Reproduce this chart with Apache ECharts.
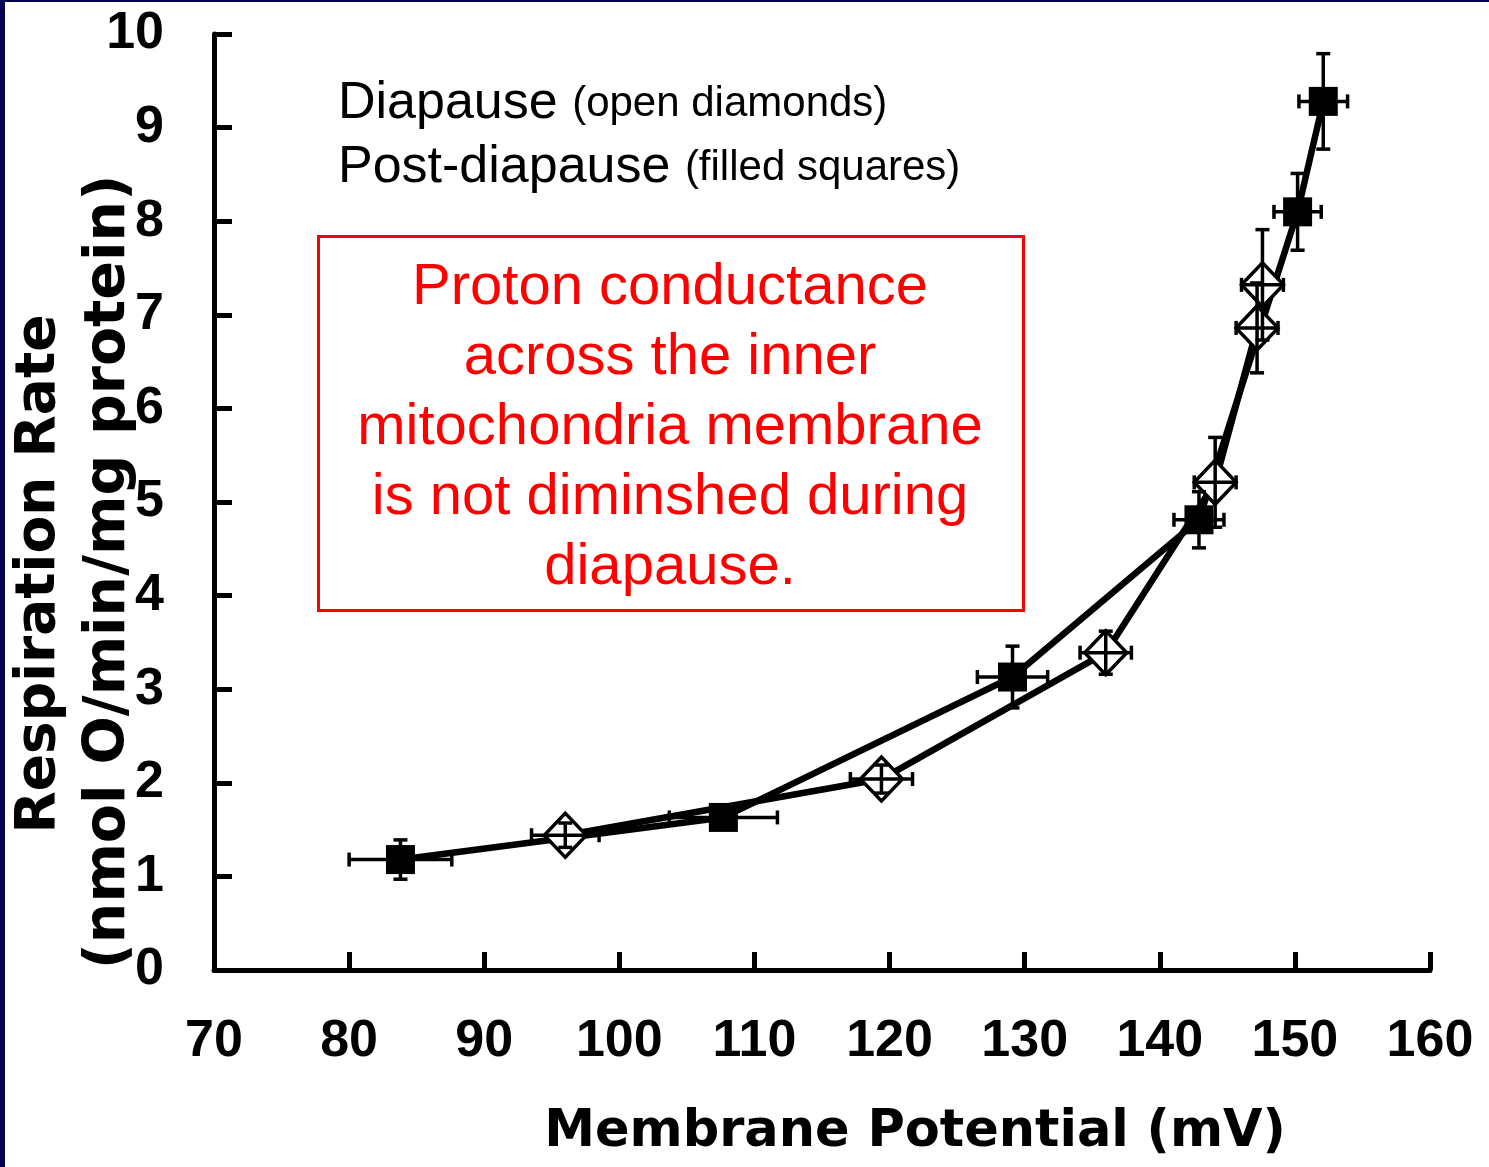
<!DOCTYPE html>
<html>
<head>
<meta charset="utf-8">
<script src="https://cdn.jsdelivr.net/npm/echarts@6/dist/echarts.min.js"></script>
<style>
  html, body { margin: 0; padding: 0; background: #fff; }
  #main-chart { width: 1489px; height: 1167px; }
</style>
</head>
<body>
<div id="main-chart"></div>
<script>
// diapause (open diamonds)
var diapX = [96.0, 119.4, 136.0, 144.1, 147.2, 147.6];
var diapY = [1.44, 2.04, 3.39, 5.21, 6.86, 7.32];
var diapXErr = [2.5, 2.3, 1.9, 1.55, 1.55, 1.55];
var diapYErr = [0.13, 0.15, 0.23, 0.48, 0.48, 0.59];

// post-diapause (filled squares)
var postX = [83.8, 107.7, 129.1, 142.9, 150.2, 152.1];
var postY = [1.18, 1.63, 3.13, 4.81, 8.10, 9.28];
var postXErr = [3.8, 4.0, 2.6, 1.85, 1.75, 1.8];
var postYErr = [0.21, 0.10, 0.33, 0.30, 0.41, 0.51];

var xTicks = { min: 70, max: 160, step: 10 };
var yTicks = { min: 0, max: 10, step: 1 };

var boxLines = [
    'Proton conductance',
    'across the inner',
    'mitochondria membrane',
    'is not diminshed during',
    'diapause.'
];

var myChart = echarts.init(document.getElementById('main-chart'));

function pairs(xs, ys) {
    var out = [];
    for (var i = 0; i < xs.length; i++) out.push([xs[i], ys[i]]);
    return out;
}
function errData(xs, ys, ex, ey) {
    var out = [];
    for (var i = 0; i < xs.length; i++) out.push([xs[i], ys[i], ex[i], ey[i]]);
    return out;
}

function renderErr(params, api) {
    var x = api.value(0), y = api.value(1), ex = api.value(2), ey = api.value(3);
    var l = api.coord([x - ex, y]);
    var r = api.coord([x + ex, y]);
    var t = api.coord([x, y + ey]);
    var b = api.coord([x, y - ey]);
    var cap = 7;
    var st = { stroke: '#000', lineWidth: 3.5 };
    function seg(x1, y1, x2, y2) {
        return { type: 'line', shape: { x1: x1, y1: y1, x2: x2, y2: y2 }, style: st };
    }
    return {
        type: 'group',
        children: [
            seg(l[0], l[1], r[0], r[1]),
            seg(l[0], l[1] - cap, l[0], l[1] + cap),
            seg(r[0], r[1] - cap, r[0], r[1] + cap),
            seg(t[0], t[1], b[0], b[1]),
            seg(t[0] - cap, t[1], t[0] + cap, t[1]),
            seg(b[0] - cap, b[1], b[0] + cap, b[1])
        ]
    };
}

var labelFont = 'Liberation Sans, Arial, sans-serif';
var titleFont = 'DejaVu Sans, Verdana, sans-serif';

var option = {
    backgroundColor: '#fff',
    animation: false,
    grid: { left: 214, top: 34, right: 59, bottom: 197 },
    xAxis: {
        type: 'value',
        min: xTicks.min, max: xTicks.max, interval: xTicks.step,
        axisLine: { lineStyle: { color: '#000', width: 5 } },
        axisTick: { inside: true, length: 18, lineStyle: { color: '#000', width: 5 } },
        splitLine: { show: false },
        axisLabel: { color: '#000', fontSize: 52, fontWeight: 'bold', fontFamily: labelFont, margin: 46 }
    },
    yAxis: {
        type: 'value',
        min: yTicks.min, max: yTicks.max, interval: yTicks.step,
        axisLine: { lineStyle: { color: '#000', width: 5 } },
        axisTick: { inside: true, length: 18, lineStyle: { color: '#000', width: 5 } },
        splitLine: { show: false },
        axisLabel: { color: '#000', fontSize: 52, fontWeight: 'bold', fontFamily: labelFont, margin: 50 }
    },
    series: [
        {
            name: 'Post-diapause',
            type: 'line',
            z: 2,
            data: pairs(postX, postY),
            lineStyle: { color: '#000', width: 6.5 },
            symbol: 'rect',
            symbolSize: 29,
            itemStyle: { color: '#000' }
        },
        {
            name: 'Diapause',
            type: 'line',
            z: 3,
            data: pairs(diapX, diapY),
            lineStyle: { color: '#000', width: 6.5 },
            symbol: 'diamond',
            symbolSize: [42, 44],
            itemStyle: { color: '#fff', borderColor: '#000', borderWidth: 3.5 }
        },
        {
            type: 'custom',
            z: 5,
            renderItem: renderErr,
            data: errData(postX, postY, postXErr, postYErr)
        },
        {
            type: 'custom',
            z: 5,
            renderItem: renderErr,
            data: errData(diapX, diapY, diapXErr, diapYErr)
        }
    ],
    graphic: [
        { type: 'rect', left: 0, top: 0, shape: { width: 5, height: 1167 }, style: { fill: '#03034f' }, z: 100 },
        { type: 'rect', left: 0, top: 0, shape: { width: 1489, height: 2 }, style: { fill: '#03034f' }, z: 100 },
        {
            type: 'text', x: 40, y: 574, rotation: Math.PI / 2,
            style: { text: 'Respiration Rate', fill: '#000', font: 'bold 55px ' + titleFont, textAlign: 'center', textVerticalAlign: 'middle' }
        },
        {
            type: 'text', x: 109, y: 572, rotation: Math.PI / 2,
            style: { text: '(nmol O/min/mg protein)', fill: '#000', font: 'bold 57px ' + titleFont, textAlign: 'center', textVerticalAlign: 'middle' }
        },
        {
            type: 'text', x: 915, y: 1133,
            style: { text: 'Membrane Potential (mV)', fill: '#000', font: 'bold 51px ' + titleFont, textAlign: 'center', textVerticalAlign: 'middle' }
        },
        {
            type: 'text', x: 338, y: 104,
            style: {
                text: '{a|Diapause }{b|(open diamonds)}',
                textVerticalAlign: 'middle',
                rich: {
                    a: { fontSize: 52, fontFamily: labelFont, fill: '#000' },
                    b: { fontSize: 42, fontFamily: labelFont, fill: '#000' }
                }
            }
        },
        {
            type: 'text', x: 338, y: 168,
            style: {
                text: '{a|Post-diapause }{b|(filled squares)}',
                textVerticalAlign: 'middle',
                rich: {
                    a: { fontSize: 52, fontFamily: labelFont, fill: '#000' },
                    b: { fontSize: 42, fontFamily: labelFont, fill: '#000' }
                }
            }
        },
        {
            type: 'rect', left: 317, top: 235,
            shape: { width: 705, height: 374 },
            style: { fill: 'transparent', stroke: '#ff0000', lineWidth: 3 }
        },
        {
            type: 'text', x: 670, y: 428,
            style: {
                text: boxLines.join('\n'),
                fill: '#ff0000',
                font: '58px ' + labelFont,
                lineHeight: 70,
                textAlign: 'center',
                textVerticalAlign: 'middle'
            }
        }
    ]
};

myChart.setOption(option);
</script>
</body>
</html>
